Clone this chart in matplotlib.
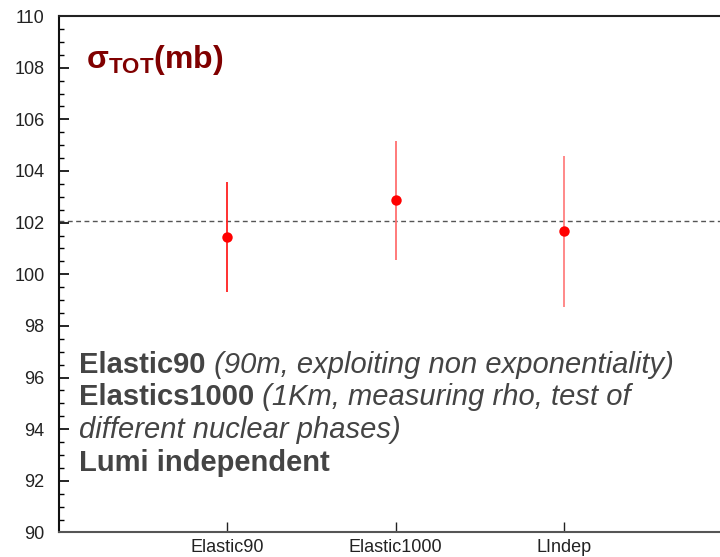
import numpy as np
import matplotlib
matplotlib.use('Agg')
import matplotlib.pyplot as plt
from matplotlib.ticker import MultipleLocator

# Total cross section measurements (mb) with uncertainties
labels = ['Elastic90', 'Elastic1000', 'LIndep']
sigma_tot = [101.45, 102.87, 101.66]
sigma_err = [2.12, 2.31, 2.91]
bar_colors = ['#ff2020', '#ff7070', '#ff8080']
reference_value = 102.05

plt.rcParams['mathtext.fontset'] = 'custom'
plt.rcParams['mathtext.bf'] = 'Liberation Sans:bold'
plt.rcParams['mathtext.rm'] = 'Liberation Sans'

fig = plt.figure(figsize=(7.2, 5.57), dpi=100)
ax = fig.add_axes([0.0813, 0.044, 0.9187, 0.9272])

x = np.arange(1, len(labels) + 1)

# reference line
ax.axhline(reference_value, color='#555555', lw=1.0, dashes=(3.5, 2.5), zorder=1)

# points with vertical error bars
for xi, yi, ei, c in zip(x, sigma_tot, sigma_err, bar_colors):
    ax.errorbar(xi, yi, yerr=ei, fmt='none', ecolor=c, elinewidth=1.3, capsize=0, zorder=2)
ax.plot(x, sigma_tot, 'o', color='red', markersize=7.5, markeredgewidth=0, zorder=3)

ax.set_xlim(0, 3.926)
ax.set_ylim(90, 110)

ax.set_xticks(x)
ax.set_xticklabels(labels, fontsize=13, family='Liberation Sans', color='#222222')
ax.yaxis.set_major_locator(MultipleLocator(2))
ax.yaxis.set_minor_locator(MultipleLocator(0.5))
ax.tick_params(axis='y', which='major', direction='in', length=7.2, width=1.2,
               pad=10, labelsize=13, labelcolor='#222222')
ax.tick_params(axis='y', which='minor', direction='in', length=3.6, width=1.0)
ax.tick_params(axis='x', which='major', direction='in', length=7.2, width=1.0,
               pad=5, colors='#222222')
for lab in ax.get_yticklabels():
    lab.set_family('Liberation Sans')

ax.spines['right'].set_visible(False)
ax.spines['left'].set_color('#111111')
ax.spines['left'].set_linewidth(1.5)
ax.spines['top'].set_color('#222222')
ax.spines['top'].set_linewidth(1.5)
ax.spines['bottom'].set_color('#555555')
ax.spines['bottom'].set_linewidth(1.5)

# title inside the frame
ax.text(0.163, 107.98, r'$\mathbf{σ_{TOT}(mb)}$', color='#800000', fontsize=23,
        va='baseline', ha='left')

# description lines
txt_color = '#444444'
fs = 21
fam = 'Liberation Sans'
x0 = 0.122
lines = [
    ('Elastic90', ' (90m, exploiting non exponentiality)', 96.16),
    ('Elastics1000', ' (1Km, measuring rho, test of', 94.92),
    ('', 'different nuclear phases)', 93.64),
    ('Lumi independent', '', 92.40),
]
for bold_part, ital_part, yy in lines:
    if bold_part:
        t = ax.text(x0, yy, bold_part, fontsize=fs, fontweight='bold', family=fam,
                    color=txt_color, va='baseline', ha='left')
        if ital_part:
            ax.annotate(ital_part, xy=(1, 0), xycoords=t, fontsize=fs, style='italic',
                        family=fam, color=txt_color, va='bottom', ha='left')
    else:
        ax.text(x0, yy, ital_part, fontsize=fs, style='italic', family=fam,
                color=txt_color, va='baseline', ha='left')

plt.savefig('out.png', dpi=100)
